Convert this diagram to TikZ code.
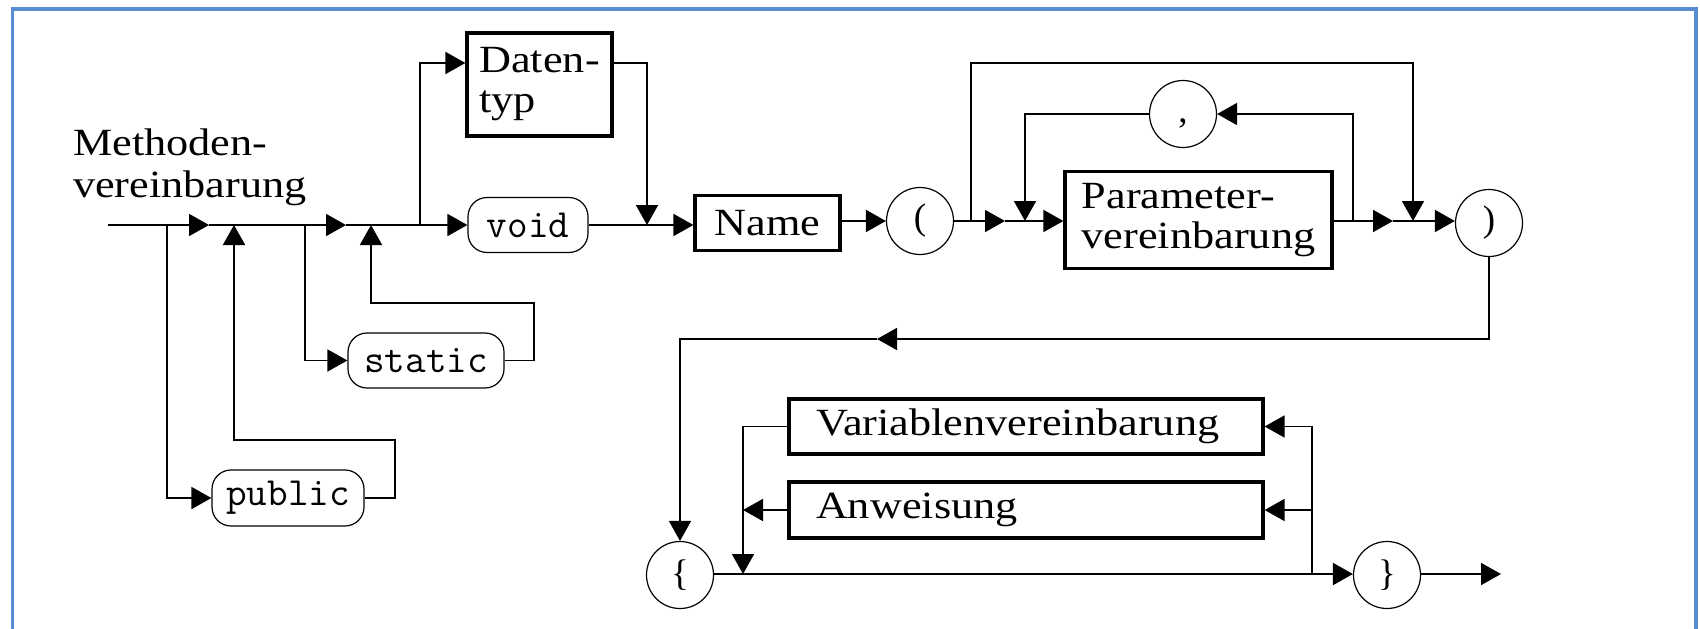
\documentclass[tikz,border=0pt]{standalone}
\usepackage{fontspec}
\setmainfont{Liberation Serif}[FakeStretch=1.15]
\newfontfamily\symf{Liberation Serif}
\usetikzlibrary{arrows.meta}
\definecolor{frameblue}{RGB}{88,140,212}
\tikzset{
  conn/.style={line width=1.8pt},
  arr/.style={conn,-{Triangle[length=20pt,width=22pt]}},
  ntbox/.style={draw,line width=3.2pt,rectangle,inner sep=0pt,font=\fontsize{38.5}{40}\selectfont},
  kw/.style={draw,line width=1.2pt,rectangle,rounded corners=19pt,inner sep=0pt,font=\ttfamily\fontsize{40}{40}\selectfont},
  sym/.style={draw,line width=1.2pt,circle,minimum size=67pt,inner sep=0pt,font=\symf\fontsize{37}{37}\selectfont},
}
\begin{document}
\begin{tikzpicture}[x=1pt,y=-1pt]
\useasboundingbox (0,0) rectangle (1700,629);
\draw[frameblue,line width=3.5pt] (12.5,629) -- (12.5,9) -- (1696,9) -- (1696,629);

\def\M{225}
\def\N{221}
\node[anchor=north west,align=left,inner sep=0pt,font=\fontsize{38.5}{42}\selectfont] (title) at (73,129) {Methoden-\\vereinbarung};

% nodes
\node[ntbox,minimum width=145pt,minimum height=103pt,align=left] (dt) at (539.5,84.5) {Daten-\\typ};
\node[kw,minimum width=120pt,minimum height=55pt] (void) at (528,\M) {void};
\node[kw,minimum width=156pt,minimum height=55pt] (static) at (426,360.5) {static};
\node[kw,minimum width=152pt,minimum height=56pt] (public) at (288,498) {public};
\node[ntbox,minimum width=145pt,minimum height=55pt] (name) at (767.5,223) {Name};
\node[sym] (lp) at (920,\N) {(};
\node[ntbox,minimum width=267pt,minimum height=97pt,align=left] (param) at (1198.5,220) {Parameter-\\vereinbarung};
\node[sym] (comma) at (1183,114) {\vphantom{(},};
\node[sym] (rp) at (1489,223) {)};
\node[sym] (lb) at (680,575) {\{};
\node[ntbox,minimum width=474pt,minimum height=55pt,text width=420pt,align=left] (var) at (1026,426.5) {Variablenvereinbarung};
\node[ntbox,minimum width=474pt,minimum height=56pt,text width=420pt,align=left] (anw) at (1026,510) {Anweisung};
\node[sym] (rb) at (1387,575) {\}};

% junction coordinates
\coordinate (start) at (108,\M);
\coordinate (jpub) at (167,\M);
\coordinate (a1) at (209,\M);
\coordinate (jpubr) at (234,\M);
\coordinate (jst) at (305,\M);
\coordinate (a2) at (346,\M);
\coordinate (jstr) at (371,\M);
\coordinate (jdt) at (420,\M);
\coordinate (jdtr) at (647,\M);
\coordinate (jlp) at (971,\N);
\coordinate (a3) at (1005,\N);
\coordinate (jloop) at (1025,\N);
\coordinate (jcom) at (1353,\N);
\coordinate (a4) at (1393,\N);
\coordinate (jby) at (1413,\N);
\coordinate (a5) at (877,339);
\coordinate (jbody) at (743,574);
\coordinate (jright) at (1312,574);
\coordinate (fin) at (1501,574);

% main line
\draw[arr] (start) -- (a1);
\draw[arr] (a1) -- (a2);
\draw[arr] (a2) -- (void);
% public
\draw[arr] (jpub) |- (public);
\draw[arr] (public) -- (395,498) -- (395,440) -- (234,440) -- (jpubr);
% static
\draw[arr] (jst) |- (static);
\draw[arr] (static) -- (534,360.5) -- (534,303) -- (371,303) -- (jstr);
% Datentyp
\draw[arr] (jdt) |- ([yshift=21.5pt]dt.west);
\draw[arr] ([yshift=21.5pt]dt.east) -| (jdtr);
% Name, (
\draw[arr] (void) -- (void -| name.west);
\draw[arr] (name.east |- lp) -- (lp);
\draw[arr] (lp) -- (a3);
\draw[arr] (a3) -- (param.west |- a3);
% bypass
\draw[arr] (jlp) -- (971,63) -- (1413,63) -- (jby);
% comma loop
\draw[arr] (jcom) -- (1353,114) -- (comma);
\draw[arr] (comma) -- (1025,114) -- (jloop);
% )
\draw[arr] (param.east |- a4) -- (a4);
\draw[arr] (a4) -- (rp.west |- a4);
% to {
\draw[arr] (rp) -- (1489,339) -- (a5);
\draw[arr] (a5) -- (680,339) -- (lb);
% body
\draw[arr] (lb.east |- jbody) -- (rb.west |- jbody);
\draw[arr] (jright) |- (var);
\draw[arr] (jright) |- (anw);
\draw[arr] (var) -| (jbody);
\draw[arr] (anw) -- (anw -| jbody);
\draw[arr] (rb.east |- fin) -- (fin);
\end{tikzpicture}
\end{document}
